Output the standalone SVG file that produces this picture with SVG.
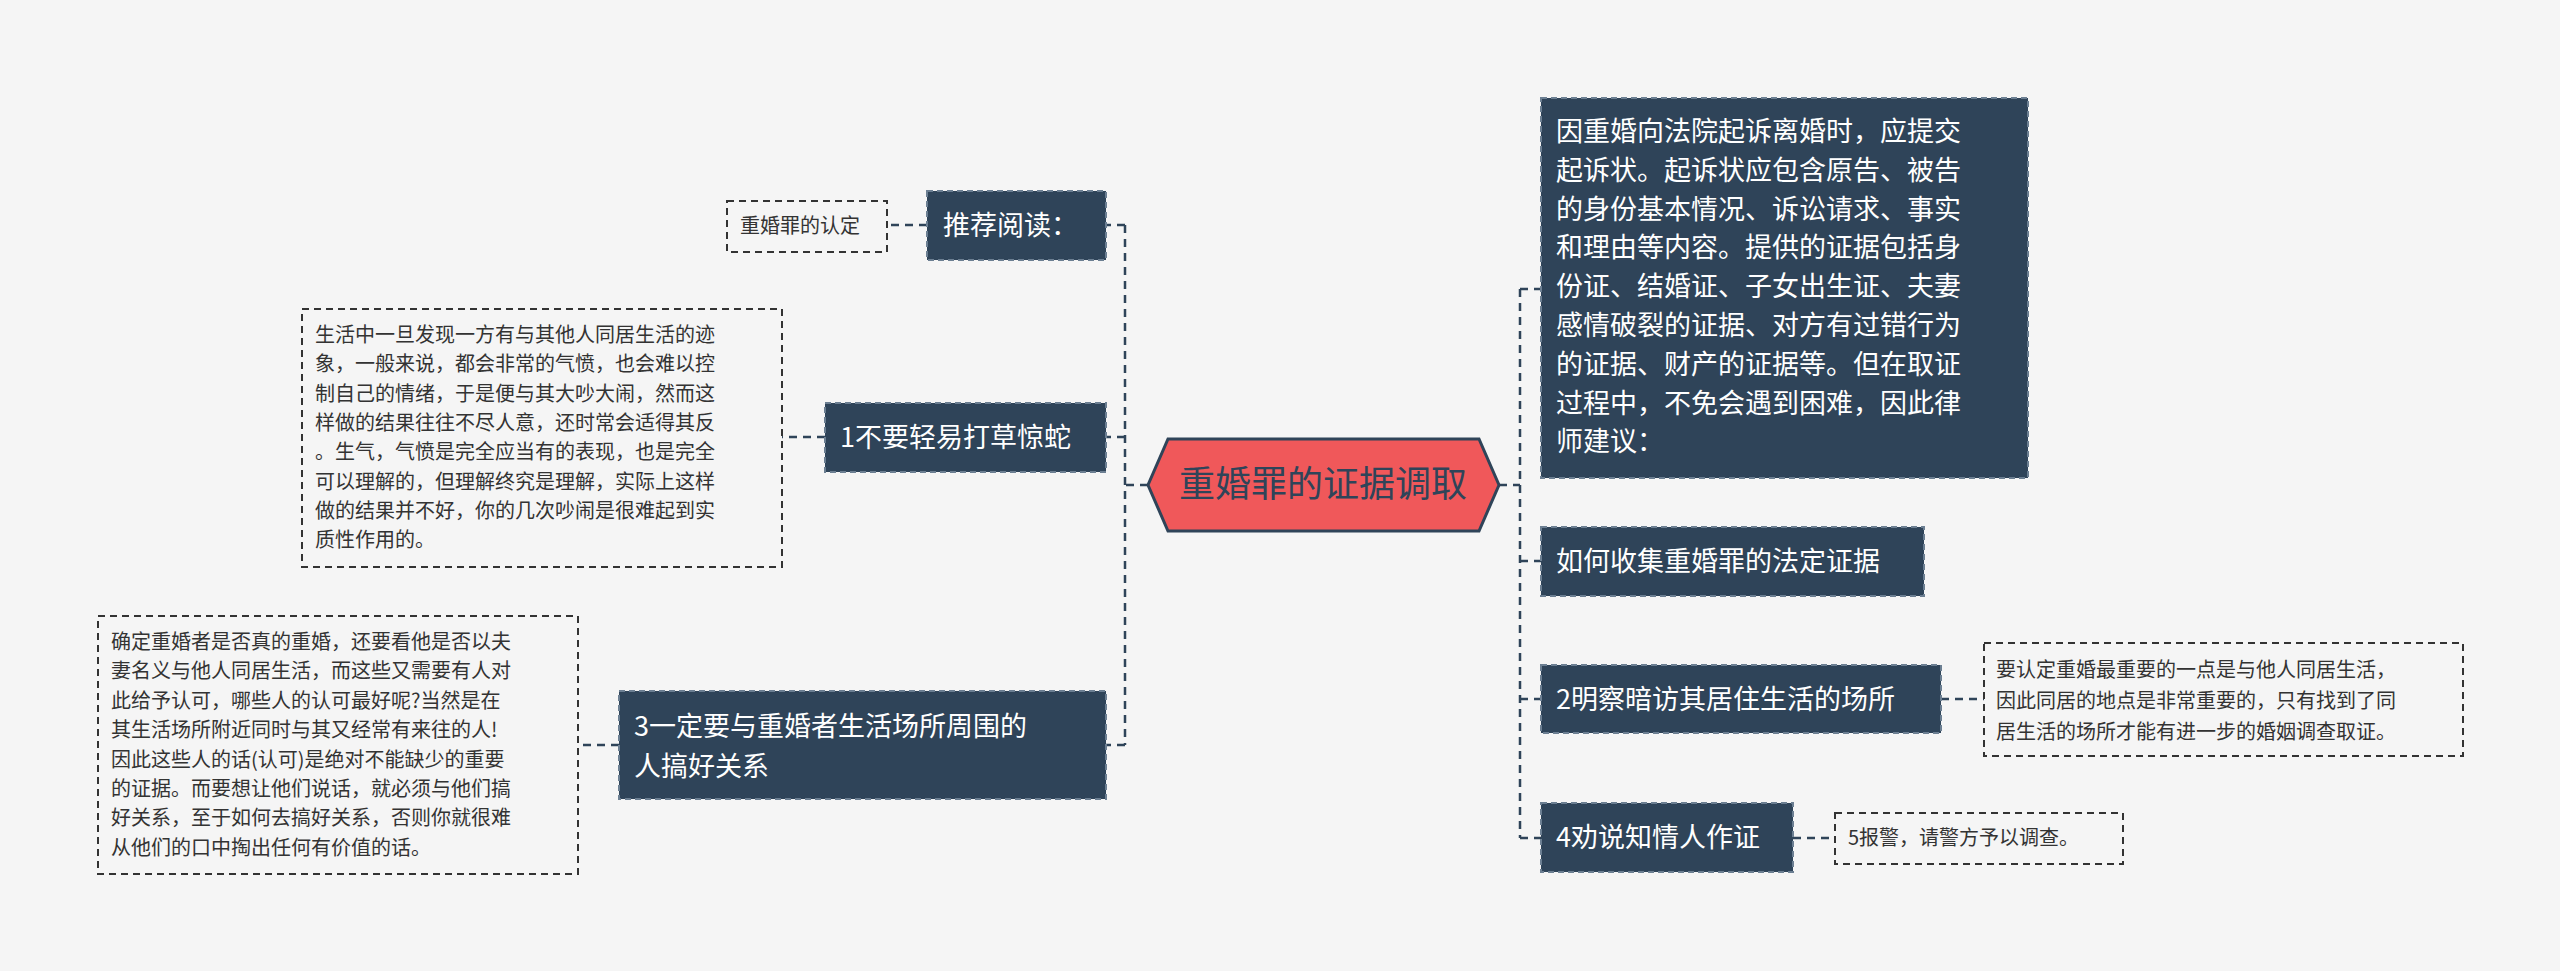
<svg xmlns="http://www.w3.org/2000/svg" width="2560" height="971" viewBox="0 0 2560 971">
<style>
text{font-family:"Noto Sans CJK SC","Noto Sans",sans-serif}
.d rect{fill:#2f4459;stroke:#6c7f92;stroke-width:2;stroke-dasharray:6 4}
.d text{fill:#fff;font-size:27px}
.l rect{fill:none;stroke:#333;stroke-width:2;stroke-dasharray:7 5}
.l text{fill:#333;font-size:20px}
.c path{fill:none;stroke:#2f4459;stroke-width:2.5;stroke-dasharray:8 6}
</style>
<rect width="2560" height="971" fill="#f5f5f5"/>
<g class="c">
<path d="M1499 485 H1520 M1520 289 V838 M1520 289 H1541 M1520 561 H1541 M1520 699 H1541 M1520 838 H1541"/>
<path d="M1148 485 H1125 M1125 225 V745 M1125 225 H1106 M1125 437 H1106 M1125 745 H1106"/>
<path d="M927 225 H887 M825 437 H782 M619 745 H578 M1941 699 H1984 M1793 838 H1835"/>
</g>
<g id="center"><path d="M1168 439 H1479 L1499 485 L1479 531 H1168 L1148 485 Z" fill="#f0585a" stroke="#2f4459" stroke-width="3"/><text x="1323" y="497" font-size="36" text-anchor="middle" fill="#2f4459">重婚罪的证据调取</text></g>
<g id="n1" class="d"><rect x="927" y="191" width="179" height="69"/><text x="943" y="235">推荐阅读：</text></g>
<g id="n1a" class="l"><rect x="727" y="201" width="160" height="51"/><text x="740" y="233">重婚罪的认定</text></g>
<g id="n2" class="d"><rect x="825" y="403" width="281" height="69"/><text x="840" y="447">1不要轻易打草惊蛇</text></g>
<g id="n2a" class="l"><rect x="302" y="309" width="480" height="258"/><text x="315" y="342"><tspan x="315">生活中一旦发现一方有与其他人同居生活的迹</tspan><tspan x="315" dy="29.3">象，一般来说，都会非常的气愤，也会难以控</tspan><tspan x="315" dy="29.3">制自己的情绪，于是便与其大吵大闹，然而这</tspan><tspan x="315" dy="29.3">样做的结果往往不尽人意，还时常会适得其反</tspan><tspan x="315" dy="29.3">。生气，气愤是完全应当有的表现，也是完全</tspan><tspan x="315" dy="29.3">可以理解的，但理解终究是理解，实际上这样</tspan><tspan x="315" dy="29.3">做的结果并不好，你的几次吵闹是很难起到实</tspan><tspan x="315" dy="29.3">质性作用的。</tspan></text></g>
<g id="n3" class="d"><rect x="619" y="691" width="487" height="108"/><text x="634" y="736"><tspan x="634">3一定要与重婚者生活场所周围的</tspan><tspan x="634" dy="40">人搞好关系</tspan></text></g>
<g id="n3a" class="l"><rect x="98" y="616" width="480" height="258"/><text x="111" y="649"><tspan x="111">确定重婚者是否真的重婚，还要看他是否以夫</tspan><tspan x="111" dy="29.4">妻名义与他人同居生活，而这些又需要有人对</tspan><tspan x="111" dy="29.4">此给予认可，哪些人的认可最好呢?当然是在</tspan><tspan x="111" dy="29.4">其生活场所附近同时与其又经常有来往的人!</tspan><tspan x="111" dy="29.4">因此这些人的话(认可)是绝对不能缺少的重要</tspan><tspan x="111" dy="29.4">的证据。而要想让他们说话，就必须与他们搞</tspan><tspan x="111" dy="29.4">好关系，至于如何去搞好关系，否则你就很难</tspan><tspan x="111" dy="29.4">从他们的口中掏出任何有价值的话。</tspan></text></g>
<g id="r1" class="d"><rect x="1541" y="98" width="487" height="380"/><text x="1556" y="141"><tspan x="1556">因重婚向法院起诉离婚时，应提交</tspan><tspan x="1556" dy="38.8">起诉状。起诉状应包含原告、被告</tspan><tspan x="1556" dy="38.8">的身份基本情况、诉讼请求、事实</tspan><tspan x="1556" dy="38.8">和理由等内容。提供的证据包括身</tspan><tspan x="1556" dy="38.8">份证、结婚证、子女出生证、夫妻</tspan><tspan x="1556" dy="38.8">感情破裂的证据、对方有过错行为</tspan><tspan x="1556" dy="38.8">的证据、财产的证据等。但在取证</tspan><tspan x="1556" dy="38.8">过程中，不免会遇到困难，因此律</tspan><tspan x="1556" dy="38.8">师建议：</tspan></text></g>
<g id="r2" class="d"><rect x="1541" y="527" width="383" height="69"/><text x="1556" y="571">如何收集重婚罪的法定证据</text></g>
<g id="r3" class="d"><rect x="1541" y="665" width="400" height="68"/><text x="1556" y="709">2明察暗访其居住生活的场所</text></g>
<g id="r3a" class="l"><rect x="1984" y="643" width="479" height="113"/><text x="1996" y="677"><tspan x="1996">要认定重婚最重要的一点是与他人同居生活，</tspan><tspan x="1996" dy="31">因此同居的地点是非常重要的，只有找到了同</tspan><tspan x="1996" dy="31">居生活的场所才能有进一步的婚姻调查取证。</tspan></text></g>
<g id="r4" class="d"><rect x="1541" y="803" width="252" height="69"/><text x="1556" y="847">4劝说知情人作证</text></g>
<g id="r4a" class="l"><rect x="1835" y="813" width="288" height="51"/><text x="1848" y="845">5报警，请警方予以调查。</text></g>
</svg>
